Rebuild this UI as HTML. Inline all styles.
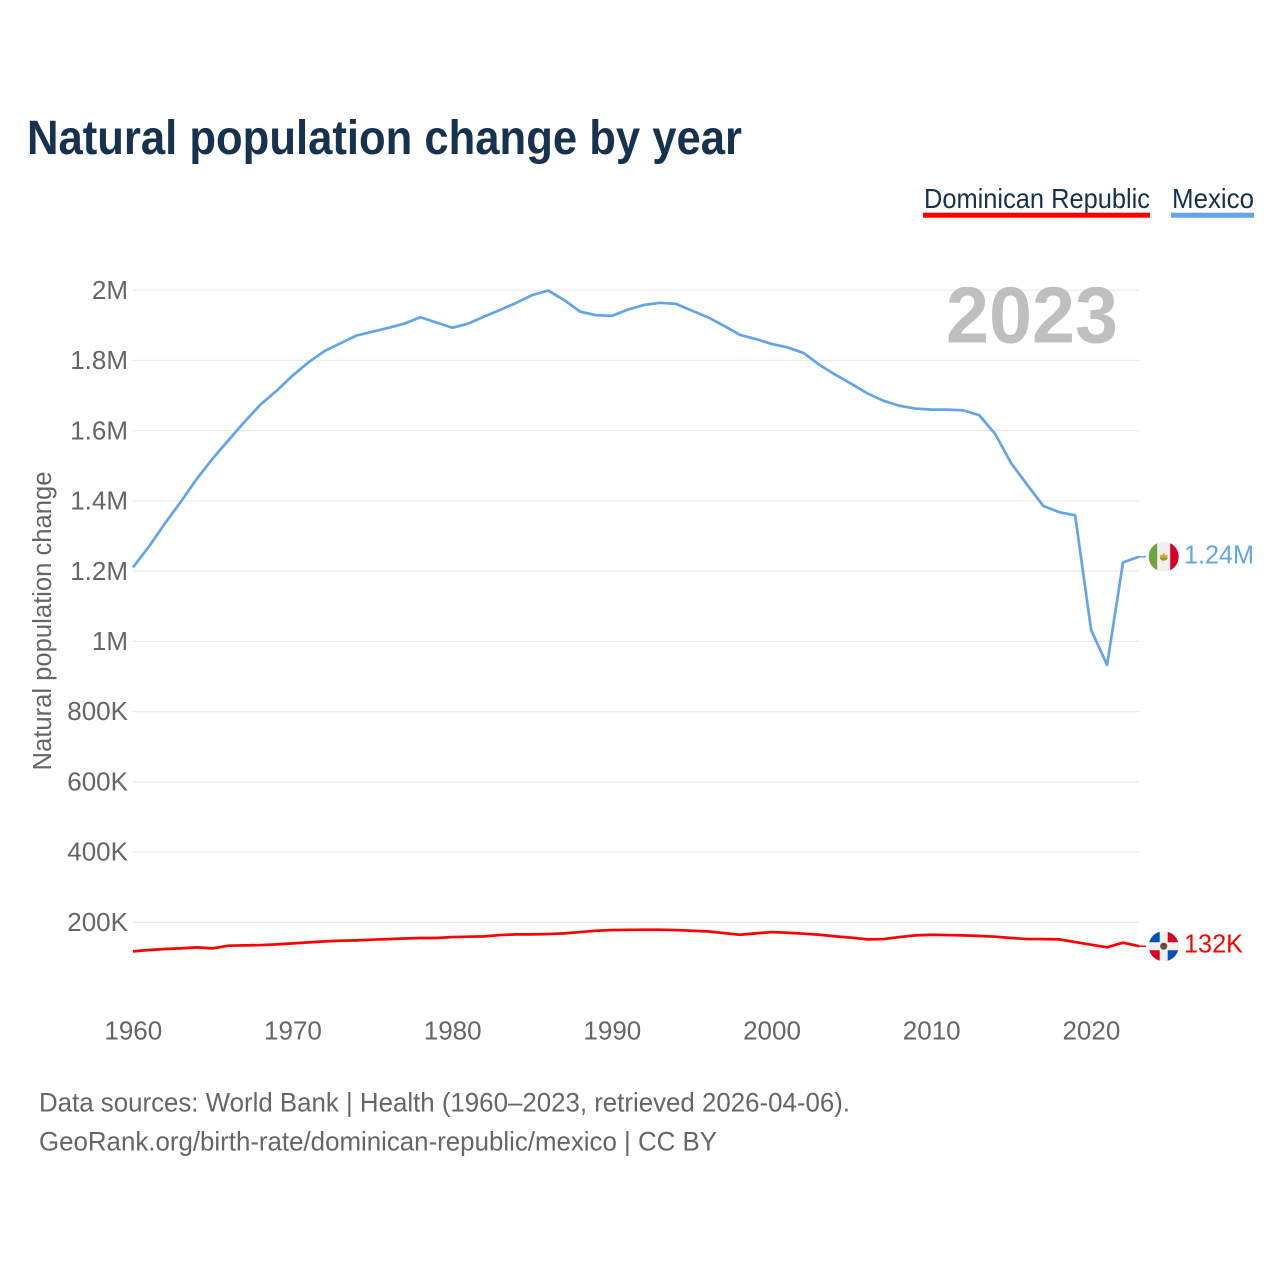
<!DOCTYPE html>
<html lang="en">
<head>
<meta charset="utf-8">
<title>Natural population change by year</title>
<style>
html,body{margin:0;padding:0;background:#fff;width:1280px;height:1280px;overflow:hidden}
svg{display:block}
text{font-family:"Liberation Sans",sans-serif}
.muted{fill:#666}
</style>
</head>
<body>
<svg id="chart" xmlns="http://www.w3.org/2000/svg" width="1280" height="1280" viewBox="0 0 1280 1280">
  <defs>
    <clipPath id="flag-clip"><circle cx="0" cy="0" r="15"></circle></clipPath>
  </defs>
  <rect x="0" y="0" width="1280" height="1280" fill="#fff"></rect>
  <text x="27" y="154" font-size="48" font-weight="700" fill="#17324f" textLength="715" lengthAdjust="spacingAndGlyphs">Natural population change by year</text>

  <g>
    <g>
      <text x="924" y="208" font-size="27.5" fill="#17324f" textLength="226" lengthAdjust="spacingAndGlyphs">Dominican Republic</text>
      <rect x="923" y="212.7" width="227" height="5" fill="#ff0000"></rect>
    </g>
    <g>
      <text x="1172" y="208" font-size="27.5" fill="#17324f" textLength="82" lengthAdjust="spacingAndGlyphs">Mexico</text>
      <rect x="1171" y="212.7" width="83" height="5" fill="#62a5ea"></rect>
    </g>
  </g>

  <g id="grid"></g>
  <g id="y-axis"></g>
  <g id="x-axis"></g>

  <text x="946" y="342.5" font-size="80" font-weight="700" fill="#bfbfbf" textLength="172" lengthAdjust="spacingAndGlyphs">2023</text>

  <text class="muted" transform="translate(51,621) rotate(-90)" text-anchor="middle" font-size="25.5" textLength="299" lengthAdjust="spacingAndGlyphs">Natural population change</text>

  <g id="series"></g>

  <g id="flag-mexico">
    <g clip-path="url(#flag-clip)">
      <rect x="-15" y="-15" width="30" height="30" fill="#f0f0f0"></rect>
      <rect x="-15" y="-15" width="8.5" height="30" fill="#6da544"></rect>
      <rect x="6.5" y="-15" width="8.5" height="30" fill="#d80027"></rect>
      <path d="M-4 0 A4 4 0 0 0 4 0 Z" fill="#6da544"></path>
      <path d="M-4 -2 L-1.8 -1.4 L0 -4 L1.8 -1.4 L4 -2 L3 1 L-3 1 Z" fill="#ff9811"></path>
    </g>
  </g>
  <text id="label-mexico" font-size="26" fill="#62a5ea" textLength="70" lengthAdjust="spacingAndGlyphs"></text>

  <g id="flag-dr">
    <g clip-path="url(#flag-clip)">
      <rect x="-15" y="-15" width="30" height="30" fill="#f0f0f0"></rect>
      <rect x="-15" y="-15" width="11" height="11" fill="#0052b4"></rect>
      <rect x="4" y="-15" width="11" height="11" fill="#d80027"></rect>
      <rect x="-15" y="4" width="11" height="11" fill="#d80027"></rect>
      <rect x="4" y="4" width="11" height="11" fill="#0052b4"></rect>
      <circle cx="0" cy="0" r="3.6" fill="#496e2d"></circle>
      <path d="M-2.6 -0.6 A2.7 2.7 0 0 1 2.6 -0.6 Z" fill="#d80027"></path>
      <path d="M-2.2 1 A2.6 2.6 0 0 0 2.2 1 Z" fill="#0052b4"></path>
    </g>
  </g>
  <text id="label-dr" font-size="26" fill="#ff0000" textLength="59" lengthAdjust="spacingAndGlyphs"></text>

  <g>
    <text class="muted" x="39" y="1111.7" font-size="27" textLength="811" lengthAdjust="spacingAndGlyphs">Data sources: World Bank | Health (1960–2023, retrieved 2026-04-06).</text>
    <text class="muted" x="39" y="1150.5" font-size="27" textLength="678" lengthAdjust="spacingAndGlyphs">GeoRank.org/birth-rate/dominican-republic/mexico | CC BY</text>
  </g>
</svg>

<script>
// Chart data (values are natural population change, in millions)
const startYear = 1960;
const mexicoValues = [
  1.211,1.270,1.336,1.398,1.463,1.521,1.574,1.626,1.675,1.714,
  1.757,1.795,1.827,1.849,1.871,1.882,1.893,1.905,1.923,1.908,
  1.893,1.905,1.925,1.944,1.964,1.986,1.999,1.972,1.939,1.929,
  1.927,1.945,1.958,1.964,1.961,1.942,1.923,1.899,1.873,1.861,
  1.847,1.837,1.821,1.787,1.759,1.733,1.706,1.685,1.671,1.663,
  1.660,1.660,1.658,1.644,1.590,1.507,1.446,1.386,1.368,1.359,
  1.033,0.933,1.225,1.241
];
const dominicanValues = [
  0.1174,0.1212,0.1241,0.1260,0.1288,0.1260,0.1335,0.1345,0.1354,0.1374,
  0.1402,0.1430,0.1459,0.1478,0.1487,0.1506,0.1525,0.1540,0.1554,0.1554,
  0.1582,0.1592,0.1601,0.1639,0.1658,0.1658,0.1667,0.1686,0.1724,0.1762,
  0.1781,0.1785,0.1790,0.1790,0.1781,0.1762,0.1743,0.1696,0.1648,0.1686,
  0.1724,0.1705,0.1677,0.1648,0.1601,0.1563,0.1516,0.1525,0.1582,0.1630,
  0.1648,0.1639,0.1630,0.1611,0.1592,0.1554,0.1525,0.1525,0.1516,0.1440,
  0.1364,0.1289,0.1421,0.1320
];
const yTickValues = [2, 1.8, 1.6, 1.4, 1.2, 1, 0.8, 0.6, 0.4, 0.2];
const yTickLabels = ["2M", "1.8M", "1.6M", "1.4M", "1.2M", "1M", "800K", "600K", "400K", "200K"];
const xTickYears = [1960, 1970, 1980, 1990, 2000, 2010, 2020];
const xTickLabels = ["1960", "1970", "1980", "1990", "2000", "2010", "2020"];

const NS = "http://www.w3.org/2000/svg";
const PLOT_LEFT = 133, PLOT_RIGHT = 1139, YEAR_SPAN = 63;
const Y_ZERO = 992.6, Y_PER_MILLION = 351.2;

function xScale(year) {
  return PLOT_LEFT + (year - startYear) * (PLOT_RIGHT - PLOT_LEFT) / YEAR_SPAN;
}
function yScale(value) {
  return Y_ZERO - value * Y_PER_MILLION;
}
function formatValue(value) {
  if (value >= 1) return value.toFixed(2) + "M";
  return Math.round(value * 1000) + "K";
}
function pathFor(values) {
  return values.map(function (v, i) {
    return (i ? "L" : "M") + xScale(startYear + i).toFixed(2) + " " + yScale(v).toFixed(2);
  }).join(" ");
}

const grid = document.getElementById("grid");
const yAxis = document.getElementById("y-axis");
yTickValues.forEach(function (value, i) {
  const y = yScale(value);
  const line = document.createElementNS(NS, "line");
  
  
  line.setAttribute("x1", PLOT_LEFT);
  line.setAttribute("x2", PLOT_RIGHT);
  line.setAttribute("y1", y);
  line.setAttribute("y2", y);
  line.setAttribute("stroke", "#ebebeb");
  line.setAttribute("stroke-width", "1.2");
  grid.appendChild(line);

  const label = document.createElementNS(NS, "text");
  
  
  label.setAttribute("class", "muted");
  label.setAttribute("x", 128);
  label.setAttribute("y", y + 8.6);
  label.setAttribute("text-anchor", "end");
  label.setAttribute("font-size", "26");
  label.textContent = yTickLabels[i];
  yAxis.appendChild(label);
});

const xAxis = document.getElementById("x-axis");
xTickYears.forEach(function (year, i) {
  const label = document.createElementNS(NS, "text");
  
  
  label.setAttribute("class", "muted");
  label.setAttribute("x", xScale(year) + 0.3);
  label.setAttribute("y", 1039.7);
  label.setAttribute("text-anchor", "middle");
  label.setAttribute("font-size", "26");
  label.textContent = xTickLabels[i];
  xAxis.appendChild(label);
});

const series = document.getElementById("series");

const mexicoLine = document.createElementNS(NS, "path");


mexicoLine.setAttribute("d", pathFor(mexicoValues));
mexicoLine.setAttribute("fill", "none");
mexicoLine.setAttribute("stroke", "#62a5ea");
mexicoLine.setAttribute("stroke-width", "2.7");
mexicoLine.setAttribute("stroke-linejoin", "round");
series.appendChild(mexicoLine);

const dominicanLine = document.createElementNS(NS, "path");


dominicanLine.setAttribute("d", pathFor(dominicanValues));
dominicanLine.setAttribute("fill", "none");
dominicanLine.setAttribute("stroke", "#ff0000");
dominicanLine.setAttribute("stroke-width", "2.7");
dominicanLine.setAttribute("stroke-linejoin", "round");
series.appendChild(dominicanLine);

const mexicoLastY = yScale(mexicoValues[mexicoValues.length - 1]);
const dominicanLastY = yScale(dominicanValues[dominicanValues.length - 1]);

const mexicoConnector = document.createElementNS(NS, "line");


mexicoConnector.setAttribute("x1", PLOT_RIGHT);
mexicoConnector.setAttribute("x2", PLOT_RIGHT + 7);
mexicoConnector.setAttribute("y1", mexicoLastY);
mexicoConnector.setAttribute("y2", mexicoLastY);
mexicoConnector.setAttribute("stroke", "#62a5ea");
mexicoConnector.setAttribute("stroke-width", "1.5");
series.appendChild(mexicoConnector);

const dominicanConnector = document.createElementNS(NS, "line");


dominicanConnector.setAttribute("x1", PLOT_RIGHT);
dominicanConnector.setAttribute("x2", PLOT_RIGHT + 7);
dominicanConnector.setAttribute("y1", dominicanLastY);
dominicanConnector.setAttribute("y2", dominicanLastY);
dominicanConnector.setAttribute("stroke", "#ff0000");
dominicanConnector.setAttribute("stroke-width", "1.5");
series.appendChild(dominicanConnector);

document.getElementById("flag-mexico").setAttribute("transform", "translate(1163.7," + mexicoLastY + ")");
document.getElementById("flag-dr").setAttribute("transform", "translate(1163.7," + dominicanLastY + ")");

const mexicoLabel = document.getElementById("label-mexico");
mexicoLabel.setAttribute("x", 1184);
mexicoLabel.setAttribute("y", mexicoLastY + 6.5);
mexicoLabel.textContent = formatValue(mexicoValues[mexicoValues.length - 1]);

const dominicanLabel = document.getElementById("label-dr");
dominicanLabel.setAttribute("x", 1184);
dominicanLabel.setAttribute("y", dominicanLastY + 6.5);
dominicanLabel.textContent = formatValue(dominicanValues[dominicanValues.length - 1]);
</script>
</body>
</html>
